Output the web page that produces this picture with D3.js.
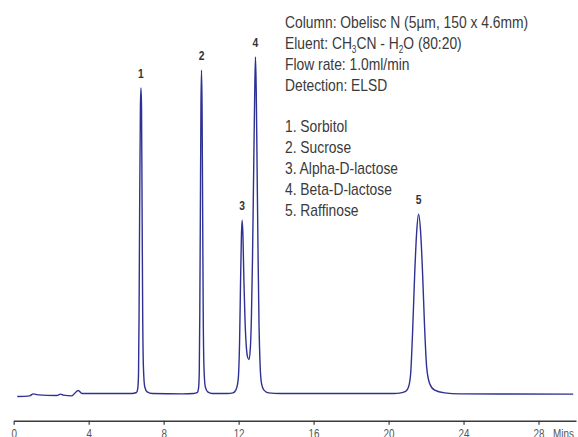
<!DOCTYPE html>
<html>
<head>
<meta charset="utf-8">
<script src="https://cdn.jsdelivr.net/npm/d3@7"></script>
<style>
  html, body { margin: 0; padding: 0; background: #fff; }
  svg { display: block; }
  text { font-family: "Liberation Sans", Arial, sans-serif; }
</style>
</head>
<body>
<div id="chart"></div>
<script>
// chromatogram trace (time in minutes, signal in % of tallest peak)
const times = [
  0.19, 0.85, 1.04, 1.30, 2.29, 2.50, 2.65, 3.09, 3.44, 3.65, 5.00, 6.30,
  6.55, 6.62, 6.66, 6.69, 6.72, 6.76, 6.79, 6.82, 6.85, 6.88, 6.92, 6.99, 7.12, 7.40,
  9.00, 9.60,
  9.80, 9.86, 9.90, 9.93, 9.96, 9.99, 10.02, 10.05, 10.08, 10.11, 10.15, 10.22, 10.35, 10.60,
  11.40, 11.70, 11.85, 11.95, 12.00, 12.05, 12.10, 12.15, 12.19, 12.23, 12.28, 12.34, 12.41, 12.48, 12.55,
  12.62, 12.68, 12.74, 12.80, 12.86, 12.90, 12.94, 12.99, 13.04, 13.09, 13.15, 13.22, 13.35, 13.60,
  14.20, 18.00, 20.30,
  20.59, 20.91, 21.07, 21.18, 21.28, 21.39, 21.50, 21.60, 21.71, 21.82, 21.92, 22.03, 22.19, 22.46, 22.99,
  23.80, 29.85
];
const signal = [
  -0.9, -0.7, -0.1, -0.4, -0.6, -0.2, -0.5, -0.7, 0.9, 0, 0, 0,
  0.3, 1.5, 6, 25, 55, 85, 90.8, 85, 55, 25, 8, 2, 0.5, 0,
  -0.1, 0,
  0.3, 1.5, 6, 25, 55, 85, 96.1, 85, 55, 25, 8, 2, 0.5, 0,
  0, 0.2, 1, 3, 6, 15, 32, 47, 51.5, 47, 34, 22, 14, 10.8, 10.1,
  13, 22, 40, 65, 90, 100, 90, 65, 40, 20, 8, 3, 1, 0.2,
  0, 0, 0,
  0.1, 0.6, 2, 6, 18, 35, 48, 53.3, 48, 35, 20, 8, 3, 1, 0.2,
  -0.1, -0.2
];

const peakLabels = ["1", "2", "3", "4", "5"];
const peakTimes = [6.79, 10.02, 12.19, 12.90, 21.60];
const peakHeights = [90.8, 96.1, 51.5, 100, 53.3];

const xTicks = [0, 4, 8, 12, 16, 20, 24, 28];

const conditions = [
  ["Column: Obelisc N (5µm, 150 x 4.6mm)"],
  ["Eluent: CH", {sub: "3"}, "CN - H", {sub: "2"}, "O (80:20)"],
  ["Flow rate: 1.0ml/min"],
  ["Detection: ELSD"],
  [""],
  ["1. Sorbitol"],
  ["2. Sucrose"],
  ["3. Alpha-D-lactose"],
  ["4. Beta-D-lactose"],
  ["5. Raffinose"]
];

const w = 578, h = 437;
const narrow = 'scale(0.824, 1)';  // condensed look of the original typeface

const svg = d3.select('#chart')
  .append('svg')
  .attr('width', w)
  .attr('height', h);

svg.append('rect')
  .attr('width', w)
  .attr('height', h)
  .attr('fill', '#fff');

const x = d3.scaleLinear()
  .domain([0, 30])
  .range([13.7, 576]);

const y = d3.scaleLinear()
  .domain([0, 100])
  .range([393.5, 57]);

// trace
const trace = d3.zip(times, signal);
const line = d3.line()
  .x(d => x(d[0]))
  .y(d => y(d[1]))
  .curve(d3.curveMonotoneX);

svg.append('path')
  .datum(trace)
  .attr('d', line)
  .attr('fill', 'none')
  .attr('stroke', '#2e3192')
  .attr('stroke-width', 1.4)
  .attr('stroke-linejoin', 'round');

// peak numbers
svg.append('g')
  .selectAll('text')
  .data(peakLabels)
  .join('text')
  .attr('transform', (d, i) => `translate(${x(peakTimes[i])}, ${y(peakHeights[i]) - 10}) ${narrow}`)
  .attr('text-anchor', 'middle')
  .style('font-size', '12.5px')
  .style('font-weight', 'bold')
  .style('fill', '#333')
  .text(d => d);

// x axis
const xAxis = d3.axisBottom(x)
  .tickValues(xTicks)
  .tickSize(4)
  .tickSizeOuter(0)
  .tickPadding(5);

const axisG = svg.append('g')
  .attr('transform', 'translate(0, 420.7)')
  .call(xAxis);

axisG.select('.domain')
  .attr('stroke', '#3a3a3a')
  .attr('stroke-width', 1.4);
axisG.selectAll('.tick line')
  .attr('stroke', '#3a3a3a')
  .attr('stroke-width', 1.2);
axisG.selectAll('.tick text')
  .style('font-size', '12px')
  .style('font-family', '"Liberation Sans", Arial, sans-serif')
  .attr('transform', narrow)
  .attr('fill', '#555');

axisG.append('text')
  .attr('transform', `translate(553, 9) ${narrow}`)
  .attr('dy', '0.71em')
  .attr('text-anchor', 'start')
  .attr('fill', '#555')
  .style('font-size', '12px')
  .style('font-family', '"Liberation Sans", Arial, sans-serif')
  .text('Mins');

// conditions block
const info = svg.append('g')
  .attr('transform', `translate(285, 28) ${narrow}`);

conditions.forEach((parts, i) => {
  const t = info.append('text')
    .attr('x', 0)
    .attr('y', i * 20.9)
    .style('font-size', '16.8px')
    .style('fill', '#3a3a3a');
  let shift = 0;
  parts.forEach(p => {
    if (typeof p === 'string') {
      t.append('tspan').attr('dy', -shift).text(p);
      shift = 0;
    } else {
      t.append('tspan')
        .attr('dy', 4)
        .style('font-size', '10px')
        .text(p.sub);
      shift = 4;
    }
  });
});
</script>
</body>
</html>
